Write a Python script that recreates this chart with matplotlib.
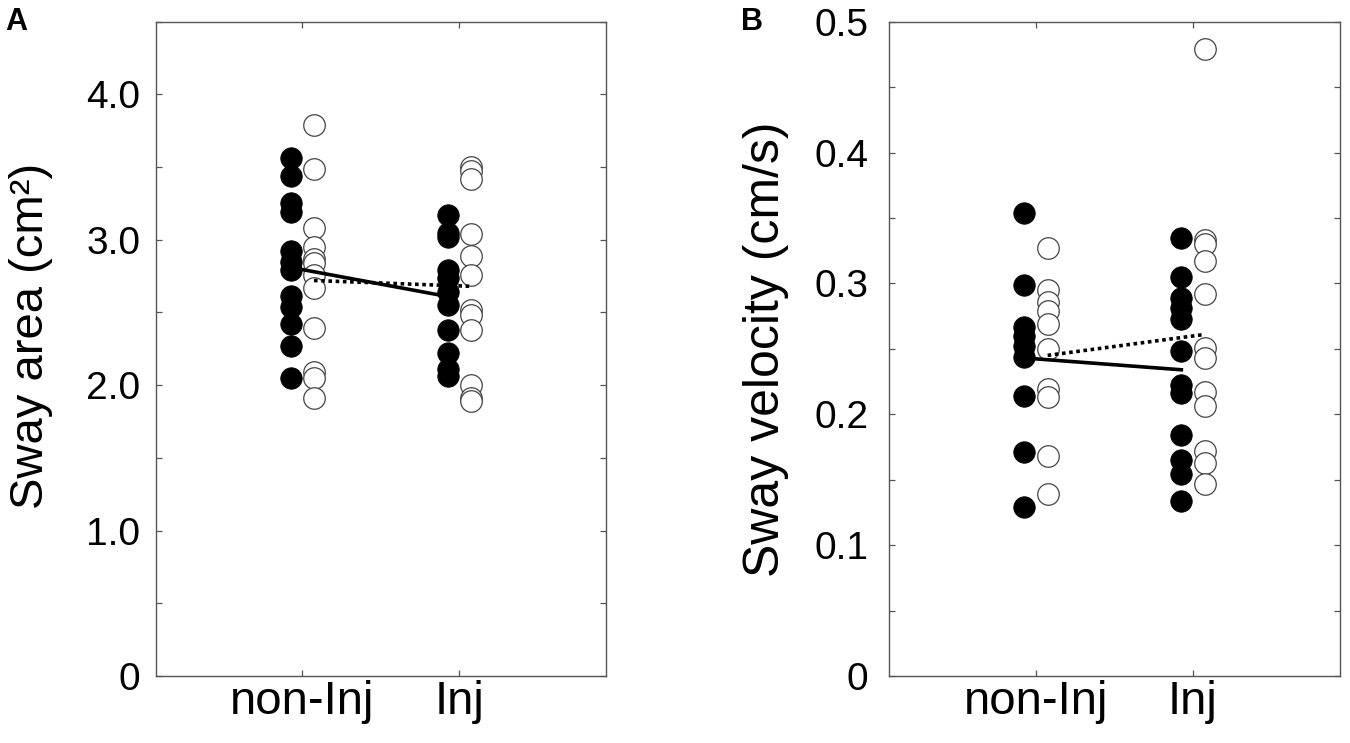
import matplotlib
matplotlib.use("Agg")
import matplotlib.pyplot as plt
from matplotlib.ticker import MultipleLocator

plt.rcParams['font.family'] = ['Liberation Sans', 'DejaVu Sans']

categories = ["non-Inj", "Inj"]

# Panel A: sway area (cm^2)
area_filled_noninj = [3.56, 3.44, 3.25, 3.19, 2.92, 2.85, 2.79, 2.61, 2.54, 2.42, 2.27, 2.05]
area_open_noninj = [3.79, 3.49, 3.08, 2.95, 2.87, 2.84, 2.76, 2.67, 2.39, 2.09, 2.05, 1.91]
area_filled_inj = [3.17, 3.05, 3.02, 2.79, 2.74, 2.64, 2.55, 2.38, 2.22, 2.11, 2.06]
area_open_inj = [3.50, 3.47, 3.42, 3.04, 2.89, 2.76, 2.52, 2.48, 2.38, 2.00, 1.91, 1.89]
area_mean_filled = [2.81, 2.61]
area_mean_open = [2.72, 2.68]

# Panel B: sway velocity (cm/s)
vel_filled_noninj = [0.354, 0.299, 0.267, 0.260, 0.252, 0.244, 0.214, 0.171, 0.129]
vel_open_noninj = [0.327, 0.295, 0.286, 0.279, 0.269, 0.250, 0.219, 0.213, 0.168, 0.139]
vel_filled_inj = [0.335, 0.305, 0.289, 0.281, 0.273, 0.248, 0.222, 0.216, 0.184, 0.165, 0.154, 0.134]
vel_open_inj = [0.479, 0.333, 0.330, 0.317, 0.292, 0.251, 0.243, 0.217, 0.206, 0.172, 0.163, 0.147]
vel_mean_filled = [0.243, 0.234]
vel_mean_open = [0.245, 0.261]

fig = plt.figure(figsize=(13.5, 7.43), dpi=100)
axA = fig.add_axes([0.1152, 0.0902, 0.3337, 0.8806])
axB = fig.add_axes([0.6585, 0.0902, 0.3341, 0.8806])

pos = [1, 2]
off = 0.074
MS = 15.5
spine_col = '#555555'


def draw(ax, fn, on, fi, oi, mf, mo):
    # open circles
    ax.plot([pos[0] + off] * len(on), on, 'o', ms=MS, mfc='white', mec='#444444',
            mew=0.9, ls='none', zorder=2)
    ax.plot([pos[1] + off] * len(oi), oi, 'o', ms=MS, mfc='white', mec='#444444',
            mew=0.9, ls='none', zorder=2)
    # mean lines
    ax.plot([pos[0] + off, pos[1] + off], mo, color='black', lw=2.6,
            ls=(0, (1.0, 1.0)), zorder=3, solid_capstyle='butt')
    ax.plot([pos[0] - off, pos[1] - off], mf, color='black', lw=2.6, zorder=3)
    # filled circles
    ax.plot([pos[0] - off] * len(fn), fn, 'o', ms=MS, mfc='black', mec='black',
            mew=0.5, ls='none', zorder=4)
    ax.plot([pos[1] - off] * len(fi), fi, 'o', ms=MS, mfc='black', mec='black',
            mew=0.5, ls='none', zorder=4)

    ax.set_xlim(0.063, 2.937)
    ax.set_xticks(pos)
    ax.set_xticklabels(categories, fontsize=34)
    for s in ax.spines.values():
        s.set_color(spine_col)
        s.set_linewidth(1.0)
    ax.tick_params(which='both', direction='in', length=4.5, width=0.9,
                   color=spine_col, top=True, right=True)
    ax.tick_params(axis='x', pad=3)


draw(axA, area_filled_noninj, area_open_noninj, area_filled_inj, area_open_inj,
     area_mean_filled, area_mean_open)
axA.set_ylim(0, 4.5)
axA.set_yticks([0, 1, 2, 3, 4])
axA.yaxis.set_minor_locator(MultipleLocator(0.5))
axA.set_yticklabels(["0", "1.0", "2.0", "3.0", "4.0"], fontsize=28)
axA.tick_params(axis='y', pad=11)
axA.set_ylabel("Sway area (cm²)", fontsize=34)
axA.yaxis.set_label_coords(-0.2275, 0.52)

draw(axB, vel_filled_noninj, vel_open_noninj, vel_filled_inj, vel_open_inj,
     vel_mean_filled, vel_mean_open)
axB.set_ylim(0, 0.5)
axB.set_yticks([0, 0.1, 0.2, 0.3, 0.4, 0.5])
axB.yaxis.set_minor_locator(MultipleLocator(0.05))
axB.set_yticklabels(["0", "0.1", "0.2", "0.3", "0.4", "0.5"], fontsize=28)
axB.tick_params(axis='y', pad=15)
axB.set_ylabel("Sway velocity (cm/s)", fontsize=36)
axB.yaxis.set_label_coords(-0.222, 0.5)

fig.text(0.004, 0.99, "A", fontsize=22, fontweight='bold', va='top', ha='left')
fig.text(0.549, 0.99, "B", fontsize=22, fontweight='bold', va='top', ha='left')

fig.savefig("out.png", dpi=100)
